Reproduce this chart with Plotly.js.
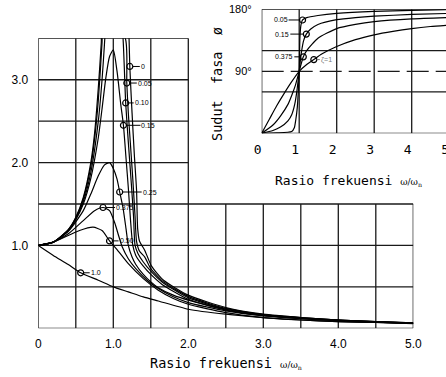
<!DOCTYPE html>
<html><head><meta charset="utf-8">
<script src="https://cdn.plot.ly/plotly-3.0.1.min.js"></script>
<style>html,body{margin:0;padding:0;overflow:hidden;background:#fff}#chart{width:452px;height:377px}</style>
</head><body><div id="chart"></div>
<script>
// ---------- Main chart: magnification factor vs frequency ratio ----------
const z0_x   = [0, 0.2, 0.4, 0.5, 0.6, 0.7, 0.75, 0.8, 0.84, 0.86, 1.19, 1.21, 1.22, 1.25, 1.28, 1.31, 1.325, 1.35, 1.42, 1.51, 1.67, 2.0, 2.5, 3.0, 3.5, 4.0, 4.5, 5.0];
const z0_y   = [1.0, 1.04, 1.19, 1.34, 1.58, 2.0, 2.35, 2.9, 3.45, 3.9, 4.0, 3.5, 3.16, 2.6, 2.1, 1.67, 1.2, 1.05, 0.94, 0.75, 0.58, 0.40, 0.25, 0.17, 0.13, 0.10, 0.08, 0.065];
const z05_x  = [0, 0.2, 0.4, 0.5, 0.6, 0.7, 0.75, 0.8, 0.85, 0.87, 1.16, 1.18, 1.2, 1.23, 1.26, 1.29, 1.31, 1.35, 1.42, 1.5, 1.67, 2.0, 2.5, 3.0, 3.5, 4.0, 4.5, 5.0];
const z05_y  = [1.0, 1.04, 1.19, 1.33, 1.56, 1.95, 2.28, 2.75, 3.45, 3.85, 3.5, 2.96, 2.6, 2.2, 1.8, 1.35, 1.05, 0.93, 0.86, 0.72, 0.56, 0.385, 0.24, 0.165, 0.125, 0.10, 0.08, 0.063];
const z10_x  = [0, 0.2, 0.4, 0.5, 0.6, 0.7, 0.8, 0.85, 0.88, 0.9, 1.0, 1.13, 1.165, 1.2, 1.24, 1.27, 1.29, 1.33, 1.4, 1.5, 1.65, 2.0, 2.5, 3.0, 3.5, 4.0, 4.5, 5.0];
const z10_y  = [1.0, 1.04, 1.18, 1.32, 1.53, 1.88, 2.5, 3.0, 3.4, 3.7, 5.0, 3.5, 2.72, 2.25, 1.75, 1.35, 1.0, 0.9, 0.8, 0.69, 0.56, 0.37, 0.23, 0.16, 0.12, 0.095, 0.078, 0.062];
const z15_x  = [0, 0.2, 0.4, 0.5, 0.6, 0.7, 0.8, 0.85, 0.9, 0.95, 1.0, 1.05, 1.1, 1.135, 1.17, 1.2, 1.23, 1.26, 1.3, 1.4, 1.5, 1.65, 2.0, 2.5, 3.0, 3.5, 4.0, 4.5, 5.0];
const z15_y  = [1.0, 1.04, 1.18, 1.31, 1.5, 1.81, 2.3, 2.65, 3.02, 3.28, 3.36, 3.1, 2.7, 2.45, 2.05, 1.7, 1.3, 1.0, 0.88, 0.75, 0.65, 0.53, 0.35, 0.22, 0.155, 0.115, 0.09, 0.075, 0.06];
const z25_x  = [0, 0.2, 0.4, 0.6, 0.7, 0.8, 0.88, 0.95, 1.0, 1.05, 1.085, 1.13, 1.17, 1.2, 1.25, 1.3, 1.4, 1.5, 1.6, 1.8, 2.0, 2.5, 3.0, 3.5, 4.0, 4.5, 5.0];
const z25_y  = [1.0, 1.04, 1.17, 1.42, 1.62, 1.84, 1.97, 2.0, 1.93, 1.8, 1.645, 1.45, 1.2, 1.0, 0.86, 0.77, 0.65, 0.56, 0.49, 0.40, 0.34, 0.23, 0.165, 0.13, 0.10, 0.08, 0.065];
const z375_x = [0, 0.2, 0.4, 0.6, 0.75, 0.863, 0.95, 1.02, 1.07, 1.12, 1.2, 1.3, 1.45, 1.6, 1.8, 2.0, 2.5, 3.0, 3.5, 4.0, 4.5, 5.0];
const z375_y = [1.0, 1.04, 1.14, 1.30, 1.42, 1.458, 1.42, 1.27, 1.12, 0.98, 0.84, 0.72, 0.58, 0.48, 0.38, 0.31, 0.21, 0.15, 0.12, 0.095, 0.075, 0.06];
const z50_x  = [0, 0.2, 0.4, 0.55, 0.73, 0.85, 0.95, 1.05, 1.2, 1.4, 1.6, 1.8, 2.0, 2.5, 3.0, 3.5, 4.0, 4.5, 5.0];
const z50_y  = [1.0, 1.04, 1.12, 1.18, 1.22, 1.18, 1.055, 0.95, 0.78, 0.60, 0.46, 0.36, 0.29, 0.19, 0.13, 0.10, 0.08, 0.07, 0.06];
const z100_x = [0, 0.2, 0.4, 0.565, 0.8, 1.0, 1.2, 1.4, 1.6, 2.0, 2.5, 3.0, 3.5, 4.0, 4.5, 5.0];
const z100_y = [1.0, 0.88, 0.77, 0.67, 0.58, 0.50, 0.44, 0.38, 0.33, 0.23, 0.17, 0.13, 0.10, 0.08, 0.07, 0.055];

const mainLabels  = ['0', '0.05', '0.10', '0.15', '0.25', '0.375', '0.50', '1.0'];
const mainLabelX  = [1.22, 1.18, 1.165, 1.135, 1.085, 0.863, 0.95, 0.565];
const mainLabelY  = [3.16, 2.96, 2.72, 2.45, 1.645, 1.458, 1.055, 0.67];
const mainLabelGap = [10, 10, 8, 17, 22, 12, 9, 9];

const mainXTicks = [0, 1, 2, 3, 4, 5];
const mainXText  = ['0', '1.0', '2.0', '3.0', '4.0', '5.0'];
const mainYTicks = [1, 2, 3];
const mainYText  = ['1.0', '2.0', '3.0'];

// ---------- Inset: phase angle vs frequency ratio ----------
const p05_x  = [0, 0.4, 0.8, 0.87, 0.91, 0.95, 0.98, 1.0, 1.02, 1.05, 1.09, 1.2, 1.5, 2.0, 3.0, 4.0, 5.0];
const p05_y  = [0, 0.5, 2.5, 8, 20, 38, 65, 90, 140, 158, 164.5, 168, 171, 174, 177, 178.5, 179.5];
const p15_x  = [0, 0.3, 0.5, 0.7, 0.8, 0.88, 0.94, 1.0, 1.06, 1.12, 1.19, 1.3, 1.5, 2.0, 2.5, 3.0, 4.0, 5.0];
const p15_y  = [0, 4, 9, 18, 27, 42, 62, 90, 118, 135, 144, 151, 158, 165, 168, 170, 172.5, 174];
const p375_x = [0, 0.3, 0.5, 0.7, 0.8, 0.9, 1.0, 1.11, 1.2, 1.5, 2.0, 2.5, 3.0, 4.0, 5.0];
const p375_y = [0, 12, 25, 42, 55, 70, 90, 111, 120, 138, 152, 158, 162, 166, 168];
const p100_x = [0, 0.2, 0.4, 0.6, 0.8, 1.0, 1.2, 1.39, 1.6, 2.0, 2.5, 3.0, 3.5, 4.0, 4.5, 5.0];
const p100_y = [0, 20, 40, 58, 75, 90, 100, 107, 115, 126, 136, 143, 148, 152, 155, 157];

const insetLabels = ['0.05', '0.15', '0.375', 'ζ=1'];
const insetLabelX = [1.09, 1.19, 1.11, 1.39];
const insetLabelY = [164.5, 144, 111, 107];
const insetLabelGap = [-14, -16, -9, 6];

const insetXTicks = [0, 1, 2, 3, 4, 5];
const insetXText  = ['0', '1', '2', '3', '4', '5'];
const insetYTicks = [90, 180];
const insetYText  = ['90°', '180°'];

// ---------- layout helpers ----------
const W = 452, H = 377;
const fx = p => p / W;
const fy = p => 1 - p / H;
const INK = '#000';
const lineW = 1.2;

function curve(x, y, xa, ya) {
  return {x, y, xaxis: xa, yaxis: ya, type: 'scatter', mode: 'lines',
          line: {color: INK, width: lineW, shape: 'spline', smoothing: 0.6},
          hoverinfo: 'skip', showlegend: false};
}

const traces = [
  curve(z0_x, z0_y, 'x', 'y'), curve(z05_x, z05_y, 'x', 'y'), curve(z10_x, z10_y, 'x', 'y'),
  curve(z15_x, z15_y, 'x', 'y'), curve(z25_x, z25_y, 'x', 'y'), curve(z375_x, z375_y, 'x', 'y'),
  curve(z50_x, z50_y, 'x', 'y'), curve(z100_x, z100_y, 'x', 'y'),
  curve(p05_x, p05_y, 'x2', 'y2'), curve(p15_x, p15_y, 'x2', 'y2'),
  curve(p375_x, p375_y, 'x2', 'y2'), curve(p100_x, p100_y, 'x2', 'y2'),
  {x: mainLabelX, y: mainLabelY, xaxis: 'x', yaxis: 'y', type: 'scatter', mode: 'markers',
   marker: {symbol: 'circle-open', size: 6, color: INK, line: {width: 1.2, color: INK}},
   hoverinfo: 'skip', showlegend: false},
  {x: insetLabelX, y: insetLabelY, xaxis: 'x2', yaxis: 'y2', type: 'scatter', mode: 'markers',
   marker: {symbol: 'circle-open', size: 6, color: INK, line: {width: 1.2, color: INK}},
   hoverinfo: 'skip', showlegend: false}
];

// grid of the main chart (cut-out at top right where the inset sits)
const shapes = [];
const gridCol = '#1a1a1a', gridW = 1.3;
for (let i = 0; i <= 10; i++) {
  const gx = i * 0.5;
  shapes.push({type: 'line', xref: 'x', yref: 'y', x0: gx, x1: gx, y0: 0, y1: gx <= 2 ? 3.5 : 1.5,
               line: {color: gridCol, width: gridW}, layer: 'below'});
}
for (let j = 0; j <= 7; j++) {
  const gy = j * 0.5;
  shapes.push({type: 'line', xref: 'x', yref: 'y', x0: 0, x1: gy <= 1.5 ? 5 : 2, y0: gy, y1: gy,
               line: {color: gridCol, width: gridW}, layer: 'below'});
}
// inset grid
for (let i = 0; i <= 5; i++) {
  shapes.push({type: 'line', xref: 'x2', yref: 'y2', x0: i, x1: i, y0: 0, y1: 180,
               line: {color: gridCol, width: gridW}, layer: 'below'});
}
[0, 60, 120, 180].forEach(v => shapes.push({type: 'line', xref: 'x2', yref: 'y2', x0: 0, x1: 5, y0: v, y1: v,
               line: {color: gridCol, width: gridW}, layer: 'below'}));
shapes.push({type: 'line', xref: 'x2', yref: 'y2', x0: 0, x1: 5, y0: 90, y1: 90,
             line: {color: gridCol, width: 1.2, dash: '22px,7px'}, layer: 'below'});

const annotations = [];
mainLabels.forEach((t, i) => annotations.push({
  x: mainLabelX[i], y: mainLabelY[i], xref: 'x', yref: 'y', text: t,
  showarrow: true, arrowhead: 0, arrowwidth: 1, arrowcolor: INK, ax: mainLabelGap[i], ay: 0,
  xanchor: 'left', standoff: 3, borderpad: 0,
  font: {family: 'Liberation Sans', size: 7, color: INK}
}));
insetLabels.forEach((t, i) => annotations.push({
  x: insetLabelX[i], y: insetLabelY[i], xref: 'x2', yref: 'y2', text: t,
  showarrow: true, arrowhead: 0, arrowwidth: 1, arrowcolor: i === 3 ? '#777' : INK,
  ax: insetLabelGap[i], ay: 0, xanchor: insetLabelGap[i] < 0 ? 'right' : 'left', standoff: 3, borderpad: 0,
  font: {family: 'Liberation Sans', size: 7, color: i === 3 ? '#777' : INK}
}));

const titleFont = {family: 'DejaVu Sans Mono', size: 13.5, color: INK};
const omega = " <span style='font-size:9px;font-family:DejaVu Serif'>ω/ω<sub>n</sub></span>";
annotations.push({xref: 'paper', yref: 'paper', x: fx(148), y: fy(363), xanchor: 'left', yanchor: 'middle',
  text: 'Rasio frekuensi' + omega, showarrow: false, font: titleFont});
annotations.push({xref: 'paper', yref: 'paper', x: fx(273), y: fy(180), xanchor: 'left', yanchor: 'middle',
  text: 'Rasio frekuensi' + omega, showarrow: false, font: {family: 'DejaVu Sans Mono', size: 13, color: INK}});
annotations.push({xref: 'paper', yref: 'paper', x: fx(217), y: fy(84), xanchor: 'center', yanchor: 'middle',
  text: 'Sudut&nbsp;&nbsp;fasa&nbsp;&nbsp;ø', textangle: -90, showarrow: false,
  font: {family: 'DejaVu Sans Mono', size: 13.5, color: INK}});

const layout = {
  width: W, height: H, margin: {l: 0, r: 0, t: 0, b: 0, pad: 0},
  paper_bgcolor: '#fff', plot_bgcolor: 'rgba(0,0,0,0)', showlegend: false,
  xaxis: {domain: [fx(38.3), fx(413.3)], range: [0, 5], anchor: 'y', showgrid: false, zeroline: false,
          showline: false, ticks: '', tickvals: mainXTicks, ticktext: mainXText, ticklabelstandoff: 7,
          tickfont: {family: 'Liberation Sans', size: 12, color: INK}, fixedrange: true},
  yaxis: {domain: [fy(328.3), fy(38.3)], range: [0, 3.5], anchor: 'x', showgrid: false, zeroline: false,
          showline: false, ticks: '', tickvals: mainYTicks, ticktext: mainYText, ticklabelstandoff: 9,
          tickfont: {family: 'Liberation Sans', size: 12, color: INK}, fixedrange: true},
  xaxis2: {domain: [fx(261.7), fx(449.2)], range: [0, 5], anchor: 'y2', showgrid: false, zeroline: false,
           showline: false, ticks: '', tickvals: insetXTicks, ticktext: insetXText, ticklabelstandoff: 7,
           ticklabelshift: -4, tickfont: {family: 'DejaVu Sans Mono', size: 13, color: INK}, fixedrange: true},
  yaxis2: {domain: [fy(133.3), fy(9.3)], range: [0, 180], anchor: 'x2', showgrid: false, zeroline: false,
           showline: false, ticks: '', tickvals: insetYTicks, ticktext: insetYText, ticklabelstandoff: 9,
           tickfont: {family: 'Liberation Sans', size: 11, color: INK}, fixedrange: true},
  shapes, annotations
};

Plotly.newPlot('chart', traces, layout, {staticPlot: true, displayModeBar: false});
</script></body></html>
